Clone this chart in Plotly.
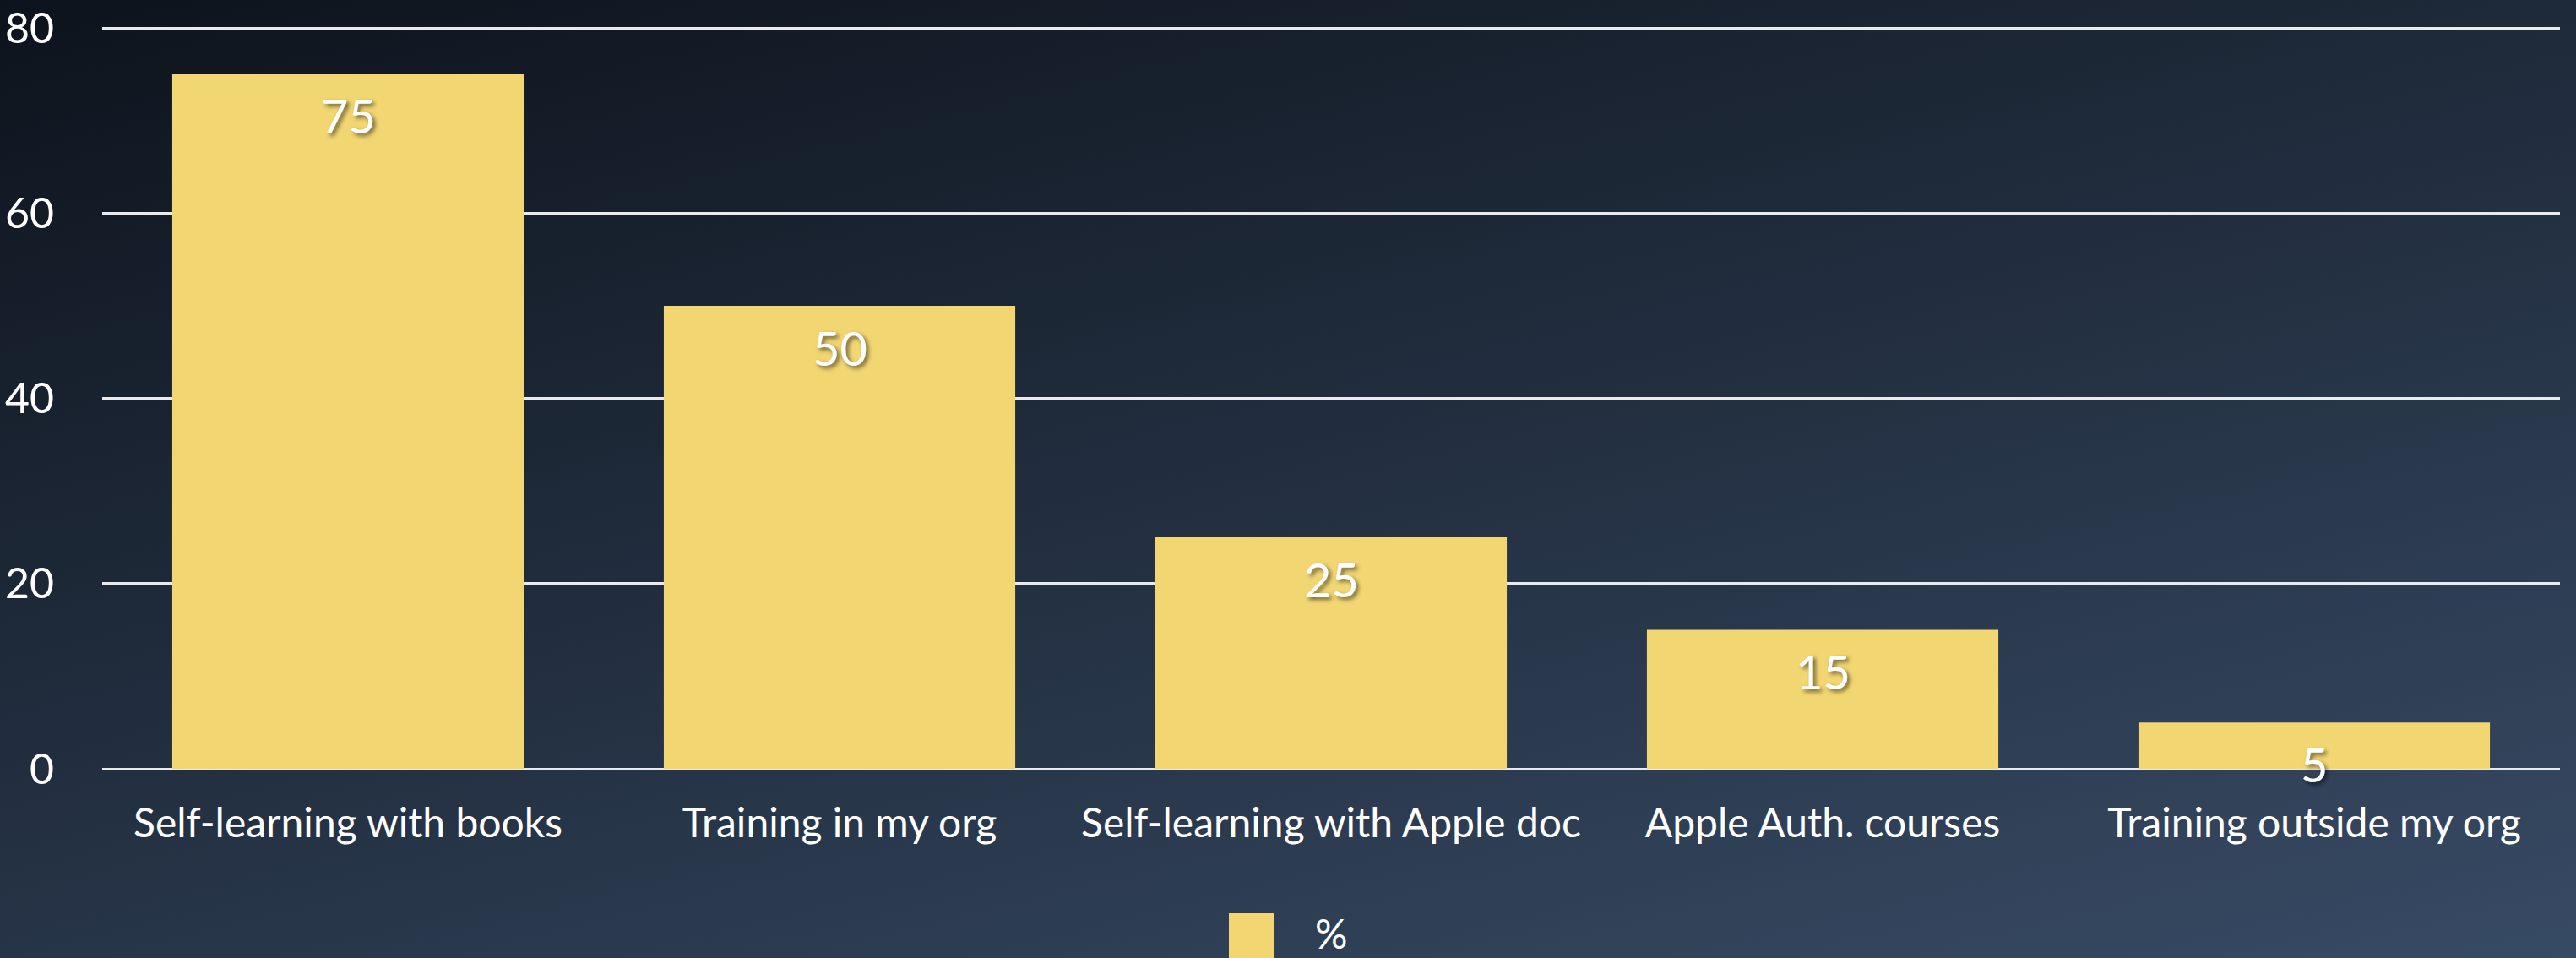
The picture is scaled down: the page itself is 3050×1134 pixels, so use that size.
import base64
import plotly.graph_objects as go

# survey: how people learned
categories = ["Self-learning with books", "Training in my org", "Self-learning with Apple doc",
              "Apple Auth. courses", "Training outside my org"]
percent = [75, 50, 25, 15, 5]
y_ticks = [0, 20, 40, 60, 80]
series_name = "%"

W, H = 3050, 1134
L, R, T, B = 121, 19, 31, 224
pw, ph = W - L - R, H - T - B

BAR = "#f2d672"
FONT = "Lato"

# gradient background as an svg image behind everything
svg = (
    '<svg xmlns="http://www.w3.org/2000/svg" width="%d" height="%d">'
    '<defs><linearGradient id="g" gradientUnits="userSpaceOnUse" x1="0" y1="0" x2="444" y2="1795">'
    '<stop offset="0" stop-color="#0d131c"/><stop offset="1" stop-color="#384b65"/>'
    '</linearGradient></defs><rect width="%d" height="%d" fill="url(#g)"/></svg>' % (W, H, W, H)
)
bg_src = "data:image/svg+xml;base64," + base64.b64encode(svg.encode()).decode()

fig = go.Figure()
fig.add_trace(go.Bar(x=categories, y=percent, name=series_name, marker_color=BAR,
                     marker_line_width=0, showlegend=False, hoverinfo="x+y"))

# value labels sit a fixed distance under the top of each bar
for c, v in zip(categories, percent):
    fig.add_annotation(x=c, y=v, text=str(v), showarrow=False, yanchor="middle", yshift=-49,
                       font=dict(family=FONT, size=56, color="white",
                                 shadow="3px 3px 5px rgba(0,0,0,0.55)"))

# legend drawn by hand (plotly's bar swatch is too small)
sq_x0, sq_x1, sq_y0, sq_y1 = 1455, 1508, 1081, 1140
fig.add_shape(type="rect", xref="paper", yref="paper",
              x0=(sq_x0 - L) / pw, x1=(sq_x1 - L) / pw,
              y0=(T + ph - sq_y0) / ph, y1=(T + ph - sq_y1) / ph,
              fillcolor=BAR, line_width=0)
fig.add_annotation(xref="paper", yref="paper", x=(1576 - L) / pw, y=(T + ph - 1104) / ph,
                   text=series_name, showarrow=False, xanchor="center", yanchor="middle",
                   font=dict(family=FONT, size=48, color="white"))

fig.add_layout_image(source=bg_src, xref="paper", yref="paper", x=-L / pw, y=1 + T / ph,
                     sizex=W / pw, sizey=H / ph, xanchor="left", yanchor="top",
                     sizing="stretch", layer="below")

fig.update_layout(
    width=W, height=H,
    margin=dict(l=L, r=R, t=T, b=B),
    paper_bgcolor="#1f2a3b",
    plot_bgcolor="rgba(0,0,0,0)",
    bargap=0.285,
    font=dict(family=FONT, color="white"),
)
fig.update_xaxes(showgrid=False, showline=False, ticks="outside", ticklen=22, automargin=False,
                 tickcolor="rgba(0,0,0,0)", tickfont=dict(family=FONT, size=48, color="white"))
# range a hair above 80 so the top gridline is not dropped at the edge
fig.update_yaxes(range=[0, 80.2], tickvals=y_ticks, showgrid=True, gridcolor="#e8eaee", gridwidth=2.5,
                 zeroline=True, zerolinecolor="#e8eaee", zerolinewidth=2.5, automargin=False,
                 ticks="outside", ticklen=46, tickcolor="rgba(0,0,0,0)",
                 tickfont=dict(family=FONT, size=50, color="white"))

fig.write_html("out.html", config={"displayModeBar": False},
               post_script="document.documentElement.style.overflow='hidden';"
                           "document.body.style.margin='0';document.body.style.overflow='hidden';")
